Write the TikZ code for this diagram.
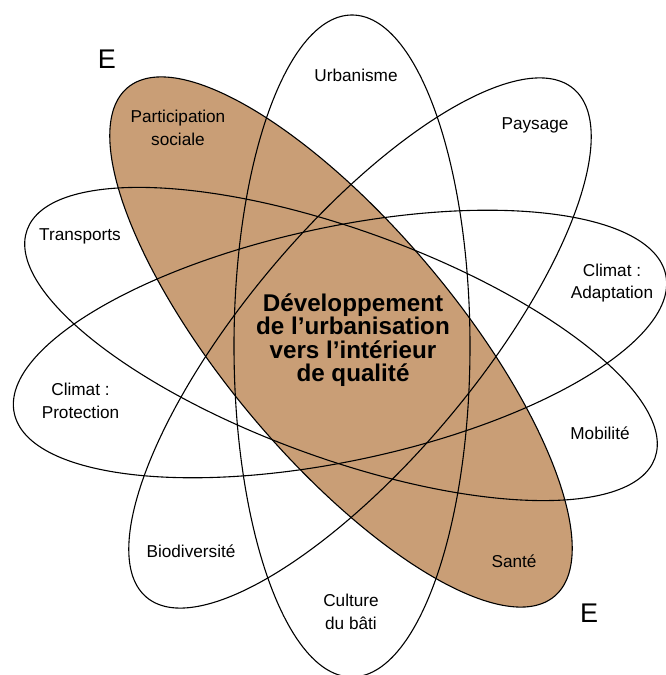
\documentclass[tikz,border=0pt]{standalone}
\usepackage{fontspec}
\setmainfont{Liberation Sans}
\definecolor{brownfill}{RGB}{201,158,118}
\begin{document}
\begin{tikzpicture}[x=1pt,y=1pt,
  ring/.style={draw=black, line width=1.1pt},
  lbl/.style={font=\fontsize{17.2}{22.5}\selectfont, align=center, inner sep=0pt},
  ctr/.style={font=\bfseries\fontsize{24.2}{23.5}\selectfont, align=center, inner sep=0pt},
  emark/.style={font=\fontsize{27}{27}\selectfont, inner sep=0pt}]
\useasboundingbox (0,0) rectangle (665,675);
% filled ellipse
\fill[brownfill, rotate around={130:(341,333)}] (341,333) ellipse [x radius=332, y radius=116];
% outlines
\draw[ring, rotate around={130:(341,333)}] (341,333) ellipse [x radius=332, y radius=116];
\draw[ring] (352,329) ellipse [x radius=118, y radius=331];
\draw[ring, rotate around={50:(360,332)}] (360,332) ellipse [x radius=332, y radius=116];
\draw[ring, rotate around={-20:(341,331)}] (341,331) ellipse [x radius=334, y radius=114];
\draw[ring, rotate around={12:(340,331)}] (340,331) ellipse [x radius=333, y radius=117];
% labels
\node[lbl] (urb) at (356,600) {Urbanisme};
\node[lbl] (pay) at (535,550) {Paysage};
\node[lbl] (par) at (178,547) {Participation\\sociale};
\node[lbl] (tra) at (80,439) {Transports};
\node[lbl] (cad) at (612,392) {Climat :\\Adaptation};
\node[lbl] (cpr) at (80.5,274) {Climat :\\Protection};
\node[lbl] (mob) at (600,242) {Mobilité};
\node[lbl] (bio) at (191,124) {Biodiversité};
\node[lbl] (san) at (514,114) {Santé};
\node[lbl] (cul) at (351,63) {Culture\\du bâti};
\node[ctr] (dev) at (353,335) {Développement\\de l’urbanisation\\vers l’intérieur\\de qualité};
\node[emark] (e1) at (107,616) {E};
\node[emark] (e2) at (589,62) {E};
\end{tikzpicture}
\end{document}
